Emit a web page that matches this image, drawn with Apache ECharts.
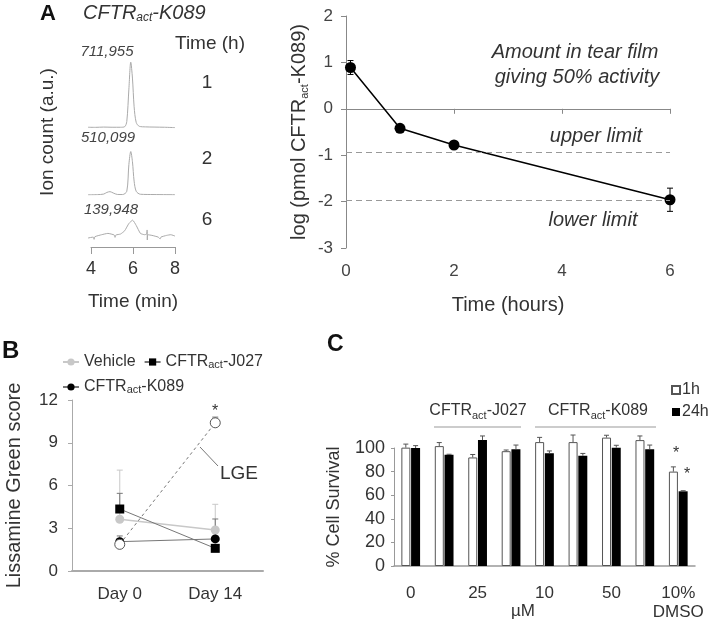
<!DOCTYPE html>
<html>
<head>
<meta charset="utf-8">
<script src="https://cdn.jsdelivr.net/npm/echarts@6/dist/echarts.min.js"></script>
<style>
  html, body { margin: 0; background: #fff; }
  #chart { width: 714px; height: 622px; }
</style>
</head>
<body>
<div id="chart"></div>
<script>
// A - chromatograms, [time (min), ion count / 1000]
const trace1h = [[3.85, 8], [4.2, 7], [4.6, 10], [5.0, 8], [5.4, 8], [5.6, 14], [5.7, 70], [5.8, 420], [5.89, 712], [5.97, 540], [6.05, 230], [6.15, 60], [6.3, 18], [6.6, 12], [7.0, 10], [7.5, 8], [8.0, 4]];
const trace2h = [[3.85, 2], [4.3, 4], [4.6, 10], [4.75, 28], [4.9, 36], [5.05, 22], [5.25, 6], [5.5, 5], [5.7, 40], [5.8, 330], [5.89, 470], [5.97, 360], [6.05, 150], [6.15, 40], [6.35, 8], [7.0, 5], [8.0, 3]];
const trace6h = [[3.85, 15], [4.1, 22], [4.14, 5], [4.18, 25], [4.5, 40], [4.8, 50], [5.1, 38], [5.14, 20], [5.18, 38], [5.4, 45], [5.6, 70], [5.8, 125], [5.98, 150], [6.15, 110], [6.35, 50], [6.55, 40], [6.65, 45], [6.67, 76], [6.68, 0], [6.7, 40], [6.9, 35], [7.2, 22], [7.29, 8], [7.33, 22], [7.6, 35], [7.8, 40], [8.0, 30]];
const peakLabels = ['711,955', '510,099', '139,948'];
const traceHours = ['1', '2', '6'];

// A - amount in tear film
const tearTimes = [0.083, 1, 2, 6];
const tearLog = [0.89, -0.42, -0.78, -1.96];
const tearErr = [0.15, 0.04, 0.04, 0.25];
const upperLimit = -0.94;
const lowerLimit = -1.98;

// B - Lissamine green score
const days = ['Day 0', 'Day 14'];
const vehicle = [3.63, 2.88];
const vehicleErr = [3.45, 1.8];
const j027 = [4.35, 1.59];
const j027Err = [1.1, 0];
const k089 = [2.06, 2.25];
const k089Err = [0.4, 1.4];
const lge = [1.87, 10.4];
const lgeErr = [0, 0.4];

// C - cell survival
const doseLabels = ['0', '', '25', '', '10', '', '50', '', '10%\nDMSO'];
const survival1h = [100.3, 101.6, 92, 97.3, 105, 105, 108.8, 106.7, 80];
const err1h = [3, 3, 2.5, 1, 4, 6, 2, 3.5, 4];
const survival24h = [100, 94.2, 106.7, 99, 95.5, 93.4, 100.3, 99, 63.3];
const err24h = [2, 0.5, 3.5, 3.5, 2, 2, 2, 3.5, 0.5];

const FONT = '"Liberation Sans", Arial, sans-serif';
const TXT = '#333';
const SUB = { fontSize: 11, verticalAlign: 'bottom', lineHeight: 10, fontFamily: FONT, color: TXT };

function sub(name) {
    // CFTRact -> CFTR with subscript "act"
    return name.replace('act', '{s|act}');
}

// vertical error bar, up only or both sides
function errorBars(color, cap, both, offset) {
    return function (params, api) {
        const x = api.value(0), y = api.value(1), e = api.value(2);
        if (!e) return null;
        const top = api.coord([x, y + e]);
        const bot = api.coord([x, both ? y - e : y]);
        const cx = top[0] + (offset || 0);
        const st = { stroke: color, lineWidth: 1 };
        const kids = [
            { type: 'line', shape: { x1: cx, y1: top[1], x2: cx, y2: bot[1] }, style: st },
            { type: 'line', shape: { x1: cx - cap, y1: top[1], x2: cx + cap, y2: top[1] }, style: st }
        ];
        if (both) kids.push({ type: 'line', shape: { x1: cx - cap, y1: bot[1], x2: cx + cap, y2: bot[1] }, style: st });
        return { type: 'group', children: kids };
    };
}

function hiddenAxis(extra) {
    return Object.assign({ show: false }, extra);
}

function label(text, x, y, opt) {
    return {
        type: 'text', x: x, y: y, rotation: (opt && opt.rotation) || 0,
        style: Object.assign({
            text: text, fill: TXT, font: '19px ' + FONT,
            textAlign: 'center', textVerticalAlign: 'middle'
        }, opt && opt.style)
    };
}

const chart = echarts.init(document.getElementById('chart'));

const option = {
    backgroundColor: '#fff',
    animation: false,
    textStyle: { fontFamily: FONT, color: TXT },
    grid: [
        { left: 88, top: 54, width: 87, height: 74 },   // trace 1 h
        { left: 88, top: 121, width: 87, height: 74 },  // trace 2 h
        { left: 88, top: 166, width: 87, height: 74 },  // trace 6 h
        { left: 91, top: 200, width: 84, height: 47 },  // chromatogram time axis
        { left: 346, top: 16, width: 324, height: 232 },
        { left: 72, top: 400, width: 191, height: 171 },
        { left: 394, top: 448, width: 301, height: 125 }
    ],
    xAxis: [
        hiddenAxis({ type: 'value', gridIndex: 0, min: 3.85, max: 8 }),
        hiddenAxis({ type: 'value', gridIndex: 1, min: 3.85, max: 8 }),
        hiddenAxis({ type: 'value', gridIndex: 2, min: 3.85, max: 8 }),
        {
            type: 'value', gridIndex: 3, min: 4, max: 8, interval: 2,
            name: 'Time (min)', nameLocation: 'middle', nameGap: 45,
            nameTextStyle: { fontSize: 19, color: TXT },
            axisLine: { lineStyle: { color: '#999' } },
            axisTick: { length: 7, lineStyle: { color: '#999' } },
            splitLine: { show: false },
            axisLabel: { fontSize: 18, color: TXT, margin: 13 }
        },
        {
            type: 'value', gridIndex: 4, min: 0, max: 6, interval: 2,
            name: 'Time (hours)', nameLocation: 'middle', nameGap: 47,
            nameTextStyle: { fontSize: 20, color: TXT },
            axisLine: { lineStyle: { color: '#888' } },
            axisTick: { length: 5, lineStyle: { color: '#888' } },
            splitLine: { show: false },
            axisLabel: { fontSize: 17, color: '#444', margin: 15 }
        },
        {
            type: 'category', gridIndex: 5, data: days,
            axisLine: { lineStyle: { color: '#aaa', width: 2 } },
            axisTick: { show: false },
            axisLabel: { fontSize: 17, color: TXT, margin: 15 }
        },
        {
            type: 'category', gridIndex: 6, data: doseLabels,
            axisLine: { lineStyle: { color: '#999', width: 1.5 } },
            axisTick: { show: false },
            axisLabel: { fontSize: 17, color: TXT, margin: 18, lineHeight: 19, interval: 0 }
        }
    ],
    yAxis: [
        hiddenAxis({ type: 'value', gridIndex: 0, min: 0, max: 800 }),
        hiddenAxis({ type: 'value', gridIndex: 1, min: 0, max: 800 }),
        hiddenAxis({ type: 'value', gridIndex: 2, min: 0, max: 560 }),
        hiddenAxis({ type: 'value', gridIndex: 3, min: 0, max: 1 }),
        {
            type: 'value', gridIndex: 4, min: -3, max: 2, interval: 1,
            name: 'log (pmol CFTR{s|act}-K089)', nameLocation: 'middle', nameGap: 36,
            nameTextStyle: { fontSize: 20, color: TXT, lineHeight: 22, rich: { s: SUB } },
            axisLine: { lineStyle: { color: '#888' } },
            axisTick: { length: 5, lineStyle: { color: '#888' } },
            splitLine: { show: false },
            axisLabel: { fontSize: 17, color: '#444', margin: 13 }
        },
        {
            type: 'value', gridIndex: 5, min: 0, max: 12, interval: 3,
            name: 'Lissamine Green score', nameLocation: 'middle', nameGap: 48,
            nameTextStyle: { fontSize: 20, color: TXT },
            axisLine: { show: true, lineStyle: { color: '#aaa' } },
            axisTick: { show: true, length: 4, lineStyle: { color: '#aaa' } },
            splitLine: { show: false },
            axisLabel: { fontSize: 17, color: TXT, margin: 14 }
        },
        {
            type: 'value', gridIndex: 6, min: 0, max: 100, interval: 20,
            name: '% Cell Survival', nameLocation: 'middle', nameGap: 51,
            nameTextStyle: { fontSize: 18, color: TXT },
            axisLine: { show: true, lineStyle: { color: '#999' } },
            axisTick: { show: true, length: 3, lineStyle: { color: '#999' } },
            splitLine: { show: false },
            axisLabel: { fontSize: 18, color: TXT, margin: 9 }
        }
    ],
    legend: [
        {
            data: ['Vehicle', 'CFTRact-J027'], left: 62, top: 354, padding: 0,
            itemWidth: 16, itemHeight: 9, itemGap: 8,
            formatter: sub,
            textStyle: { fontSize: 16, color: TXT, rich: { s: SUB } }
        },
        {
            data: ['CFTRact-K089'], left: 62, top: 379, padding: 0,
            itemWidth: 16, itemHeight: 9,
            formatter: sub,
            textStyle: { fontSize: 16, color: TXT, rich: { s: SUB } }
        },
        {
            data: ['1h', '24h'], orient: 'vertical', left: 671, top: 382, padding: 0,
            itemWidth: 8, itemHeight: 8, itemGap: 6, icon: 'rect',
            textStyle: { fontSize: 16, color: TXT, padding: [0, 0, 0, -3] }
        }
    ],
    series: [
        // A chromatograms
        {
            type: 'line', xAxisIndex: 0, yAxisIndex: 0, data: trace1h, smooth: 0.3,
            showSymbol: false, lineStyle: { color: '#aaa', width: 1 }, silent: true
        },
        {
            type: 'line', xAxisIndex: 1, yAxisIndex: 1, data: trace2h, smooth: 0.3,
            showSymbol: false, lineStyle: { color: '#aaa', width: 1 }, silent: true
        },
        {
            type: 'line', xAxisIndex: 2, yAxisIndex: 2, data: trace6h, smooth: 0.15,
            showSymbol: false, lineStyle: { color: '#aaa', width: 1 }, silent: true
        },
        // A tear film
        {
            type: 'custom', xAxisIndex: 4, yAxisIndex: 4, z: 1,
            data: tearTimes.map((t, i) => [t, tearLog[i], tearErr[i]]),
            encode: { x: 0, y: 1 },
            renderItem: errorBars('#000', 3, true, 0)
        },
        {
            type: 'line', xAxisIndex: 4, yAxisIndex: 4,
            data: tearTimes.map((t, i) => [t, tearLog[i]]),
            symbol: 'circle', symbolSize: 11,
            itemStyle: { color: '#000' },
            lineStyle: { color: '#000', width: 1.5 },
            markLine: {
                silent: true, symbol: 'none', label: { show: false },
                lineStyle: { color: '#999', type: [6, 4], width: 1 },
                data: [{ yAxis: upperLimit }, { yAxis: lowerLimit }]
            }
        },
        // B
        {
            type: 'custom', xAxisIndex: 5, yAxisIndex: 5, z: 1,
            data: days.map((d, i) => [i, vehicle[i], vehicleErr[i]]),
            encode: { x: 0, y: 1 },
            renderItem: errorBars('#c8c8c8', 3, false, 0)
        },
        {
            type: 'custom', xAxisIndex: 5, yAxisIndex: 5, z: 1,
            data: days.map((d, i) => [i, j027[i], j027Err[i]]),
            encode: { x: 0, y: 1 },
            renderItem: errorBars('#777', 3, false, 0)
        },
        {
            type: 'custom', xAxisIndex: 5, yAxisIndex: 5, z: 1,
            data: days.map((d, i) => [i, k089[i], k089Err[i]]),
            encode: { x: 0, y: 1 },
            renderItem: errorBars('#777', 3, false, 0)
        },
        {
            type: 'custom', xAxisIndex: 5, yAxisIndex: 5, z: 1,
            data: days.map((d, i) => [i, lge[i], lgeErr[i]]),
            encode: { x: 0, y: 1 },
            renderItem: errorBars('#777', 3, false, 0)
        },
        {
            name: 'Vehicle', type: 'line', xAxisIndex: 5, yAxisIndex: 5, data: vehicle,
            symbol: 'circle', symbolSize: 9,
            itemStyle: { color: '#c8c8c8' },
            lineStyle: { color: '#c8c8c8', width: 1.5 }
        },
        {
            name: 'CFTRact-J027', type: 'line', xAxisIndex: 5, yAxisIndex: 5, data: j027,
            symbol: 'rect', symbolSize: 9,
            itemStyle: { color: '#000' },
            lineStyle: { color: '#777', width: 1 }
        },
        {
            name: 'CFTRact-K089', type: 'line', xAxisIndex: 5, yAxisIndex: 5, data: k089,
            symbol: 'circle', symbolSize: 9,
            itemStyle: { color: '#000' },
            lineStyle: { color: '#777', width: 1 }
        },
        {
            name: 'LGE', type: 'line', xAxisIndex: 5, yAxisIndex: 5, data: lge,
            symbol: 'circle', symbolSize: 10,
            itemStyle: { color: '#fff', borderColor: '#555', borderWidth: 1 },
            lineStyle: { color: '#777', width: 1, type: [3, 3] }
        },
        // C
        {
            name: '1h', type: 'bar', xAxisIndex: 6, yAxisIndex: 6, data: survival1h,
            barWidth: 9, barGap: '8%', clip: false,
            itemStyle: { color: '#fff', borderColor: '#555', borderWidth: 1 }
        },
        {
            name: '24h', type: 'bar', xAxisIndex: 6, yAxisIndex: 6, data: survival24h,
            barWidth: 9, clip: false,
            itemStyle: { color: '#000' }
        },
        {
            type: 'custom', xAxisIndex: 6, yAxisIndex: 6, z: 3,
            data: doseLabels.map((d, i) => [i, survival1h[i], err1h[i]]),
            encode: { x: 0, y: 1 },
            renderItem: errorBars('#555', 2.5, false, -4.9)
        },
        {
            type: 'custom', xAxisIndex: 6, yAxisIndex: 6, z: 3,
            data: doseLabels.map((d, i) => [i, survival24h[i], err24h[i]]),
            encode: { x: 0, y: 1 },
            renderItem: errorBars('#555', 2.5, false, 4.9)
        }
    ],
    graphic: [
        label('A', 40, 14, { style: { font: 'bold 22px ' + FONT, fill: '#111', textAlign: 'left' } }),
        label('{i|CFTR}{s|act}{i|-K089}', 83, 13, {
            style: {
                textAlign: 'left',
                rich: {
                    i: { fontSize: 20, fontStyle: 'italic', fontFamily: FONT, color: TXT, lineHeight: 22 },
                    s: { fontSize: 12, fontStyle: 'italic', fontFamily: FONT, color: TXT, verticalAlign: 'bottom', lineHeight: 10 }
                }
            }
        }),
        label(peakLabels[0], 107, 52, { style: { font: 'italic 15px ' + FONT, fill: '#444' } }),
        label(peakLabels[1], 108, 138, { style: { font: 'italic 15px ' + FONT, fill: '#444' } }),
        label(peakLabels[2], 111, 210, { style: { font: 'italic 15px ' + FONT, fill: '#444' } }),
        label('Time (h)', 210, 44),
        label(traceHours[0], 207, 83),
        label(traceHours[1], 207, 159),
        label(traceHours[2], 207, 220),
        label('Ion count (a.u.)', 48, 132, { rotation: Math.PI / 2 }),
        label('Amount in tear film', 575, 52, { style: { font: 'italic 20px ' + FONT } }),
        label('giving 50% activity', 577, 77, { style: { font: 'italic 20px ' + FONT } }),
        label('upper limit', 596, 136, { style: { font: 'italic 20px ' + FONT } }),
        label('lower limit', 593, 220, { style: { font: 'italic 20px ' + FONT } }),

        label('B', 2, 351, { style: { font: 'bold 24px ' + FONT, fill: '#111', textAlign: 'left' } }),
        label('LGE', 220, 474, { style: { font: '19px ' + FONT, textAlign: 'left' } }),
        { type: 'line', shape: { x1: 200, y1: 447, x2: 218, y2: 466 }, style: { stroke: '#777', lineWidth: 1 } },
        label('*', 215, 412, { style: { font: '16px ' + FONT } }),

        label('C', 327, 345, { style: { font: 'bold 23px ' + FONT, fill: '#111', textAlign: 'left' } }),
        label('{t|CFTR}{s|act}{t|-J027}', 478, 411, {
            style: { rich: { t: { fontSize: 16, fontFamily: FONT, color: TXT, lineHeight: 20 }, s: SUB } }
        }),
        label('{t|CFTR}{s|act}{t|-K089}', 598, 411, {
            style: { rich: { t: { fontSize: 16, fontFamily: FONT, color: TXT, lineHeight: 20 }, s: SUB } }
        }),
        { type: 'line', shape: { x1: 434, y1: 427, x2: 521, y2: 427 }, style: { stroke: '#999', lineWidth: 1 } },
        { type: 'line', shape: { x1: 535, y1: 427, x2: 656, y2: 427 }, style: { stroke: '#999', lineWidth: 1 } },
        label('\u00b5M', 523, 611, { style: { font: '17px ' + FONT } }),
        label('*', 676, 454, { style: { font: '16px ' + FONT } }),
        label('*', 687, 475, { style: { font: '16px ' + FONT } })
    ]
};

chart.setOption(option);
</script>
</body>
</html>
